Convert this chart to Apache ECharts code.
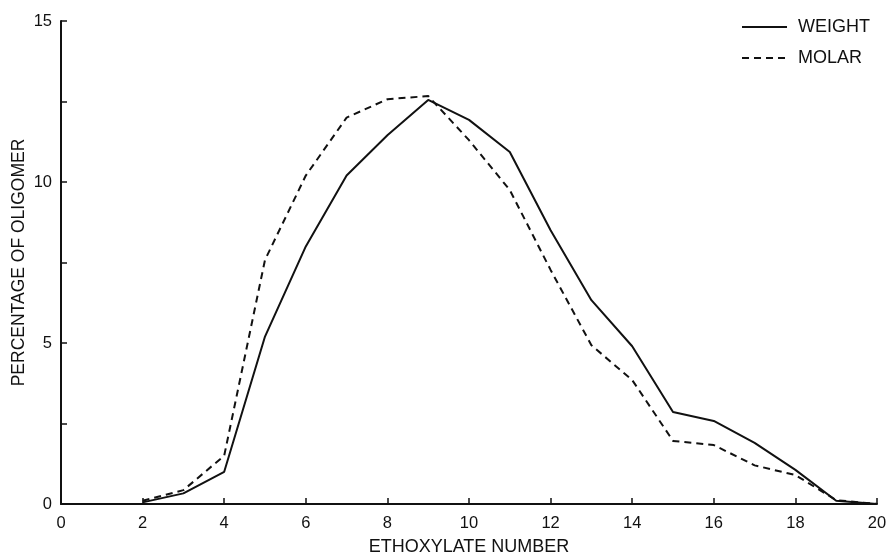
<!DOCTYPE html>
<html>
<head>
<meta charset="utf-8">
<script src="https://cdn.jsdelivr.net/npm/echarts@6/dist/echarts.min.js"></script>
<style>
html,body{margin:0;padding:0;background:#fff;}
#chart{width:890px;height:553px;}
</style>
</head>
<body>
<div id="chart"></div>
<script>
// Data
var ethoxylate = [2,3,4,5,6,7,8,9,10,11,12,13,14,15,16,17,18,19,20];
var weightPct  = [0.05,0.33,1.0,5.2,8.0,10.2,11.45,12.55,11.93,10.93,8.5,6.33,4.9,2.86,2.58,1.9,1.06,0.1,0];
var molarPct   = [0.1,0.43,1.5,7.58,10.2,12.0,12.57,12.67,11.3,9.75,7.27,4.93,3.85,1.96,1.83,1.2,0.9,0.12,0];
var xTicks = [0,2,4,6,8,10,12,14,16,18,20];
var yLabels = [0,5,10,15];

function pairs(xs, ys){ return xs.map(function(x,i){ return [x, ys[i]]; }); }

var font = 'Liberation Sans, Arial, sans-serif';
var chart = echarts.init(document.getElementById('chart'), null, {renderer:'canvas'});
chart.setOption({
  backgroundColor:'#ffffff',
  animation:false,
  grid:{left:61, right:13, top:21, bottom:49, containLabel:false, outerBoundsMode:'none'},
  legend:{
    right:15, top:13, orient:'vertical', itemGap:13,
    itemWidth:45, itemHeight:14,
    itemStyle:{opacity:0},
    textStyle:{fontFamily:font, fontSize:18, color:'#111', padding:[0,0,0,6]},
    data:[{name:'WEIGHT'},{name:'MOLAR'}]
  },
  xAxis:{
    type:'value', min:0, max:20, interval:2,
    name:'ETHOXYLATE NUMBER', nameLocation:'middle', nameGap:34,
    nameTextStyle:{fontFamily:font, fontSize:18, color:'#111'},
    axisLine:{show:true, lineStyle:{color:'#111', width:2}},
    axisTick:{show:true, inside:true, length:6, lineStyle:{color:'#111', width:1.5}},
    axisLabel:{fontFamily:font, fontSize:16.5, color:'#111', margin:11,
      formatter:function(v){ return xTicks.indexOf(v) >= 0 ? String(v) : ''; }},
    splitLine:{show:false}
  },
  yAxis:{
    type:'value', min:0, max:15, interval:2.5,
    name:'PERCENTAGE OF OLIGOMER', nameLocation:'middle', nameGap:33, nameRotate:90,
    nameMoveOverlap:false,
    nameTextStyle:{fontFamily:font, fontSize:17.5, color:'#111'},
    axisLine:{show:true, lineStyle:{color:'#111', width:2}},
    axisTick:{show:true, inside:true, length:6, lineStyle:{color:'#111', width:1.5}},
    axisLabel:{fontFamily:font, fontSize:16.5, color:'#111', margin:9,
      formatter:function(v){ return yLabels.indexOf(v) >= 0 ? String(v) : ''; }},
    splitLine:{show:false}
  },
  series:[
    {name:'WEIGHT', type:'line', data:pairs(ethoxylate, weightPct), symbol:'none',
     lineStyle:{color:'#111', width:2, type:'solid'}, itemStyle:{color:'#111'}},
    {name:'MOLAR', type:'line', data:pairs(ethoxylate, molarPct), symbol:'none',
     lineStyle:{color:'#111', width:2, type:[7,5]}, itemStyle:{color:'#111'}}
  ]
});
</script>
</body>
</html>
